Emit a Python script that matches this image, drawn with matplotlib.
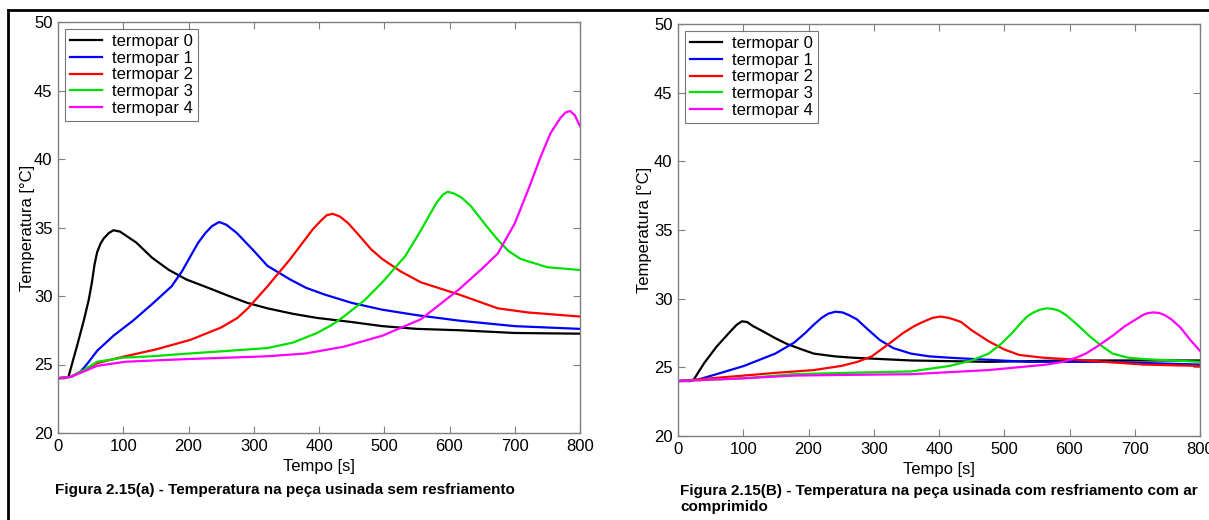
import matplotlib
matplotlib.use("Agg")
import matplotlib.pyplot as plt
from matplotlib.lines import Line2D

plt.rcParams['font.family'] = ['Liberation Sans', 'DejaVu Sans']

labels = ["termopar 0", "termopar 1", "termopar 2", "termopar 3", "termopar 4"]
colors = ["#000000", "#0000ff", "#ff0000", "#00e000", "#ff00ff"]

# Panel (a): sem resfriamento
a0_x = [0, 10, 16, 30, 40, 47, 52, 56, 60, 65, 70, 78, 85, 95, 120, 144, 170, 197, 230, 262, 290, 321, 360, 397, 450, 497, 550, 615, 700, 800]
a0_y = [24.0, 24.0, 24.1, 26.5, 28.3, 29.7, 31.0, 32.3, 33.2, 33.8, 34.2, 34.6, 34.8, 34.7, 33.9, 32.8, 31.9, 31.2, 30.6, 30.0, 29.5, 29.1, 28.7, 28.4, 28.1, 27.8, 27.6, 27.5, 27.3, 27.25]
a1_x = [0, 20, 35, 44, 60, 85, 115, 144, 174, 190, 203, 215, 226, 236, 247, 258, 274, 300, 321, 356, 380, 409, 450, 497, 550, 615, 700, 800]
a1_y = [24.0, 24.1, 24.5, 25.0, 26.0, 27.1, 28.2, 29.4, 30.7, 31.8, 32.9, 33.9, 34.6, 35.1, 35.4, 35.2, 34.6, 33.3, 32.2, 31.2, 30.6, 30.1, 29.5, 29.0, 28.6, 28.2, 27.8, 27.6]
a2_x = [0, 20, 40, 60, 103, 150, 203, 250, 275, 291, 321, 356, 391, 403, 412, 421, 432, 445, 460, 480, 497, 525, 556, 615, 674, 720, 800]
a2_y = [24.0, 24.1, 24.6, 25.1, 25.6, 26.1, 26.8, 27.7, 28.4, 29.1, 30.7, 32.7, 34.9, 35.5, 35.9, 36.0, 35.8, 35.3, 34.5, 33.4, 32.7, 31.8, 31.0, 30.1, 29.1, 28.8, 28.5]
a3_x = [0, 20, 40, 60, 100, 144, 200, 262, 321, 360, 397, 420, 438, 470, 497, 532, 555, 568, 580, 590, 597, 606, 618, 632, 655, 674, 690, 709, 750, 800]
a3_y = [24.0, 24.1, 24.6, 25.2, 25.5, 25.6, 25.8, 26.0, 26.2, 26.6, 27.3, 27.9, 28.5, 29.7, 31.0, 32.9, 34.7, 35.8, 36.8, 37.4, 37.6, 37.5, 37.2, 36.6, 35.2, 34.1, 33.3, 32.7, 32.1, 31.9]
a4_x = [0, 20, 40, 60, 103, 150, 200, 262, 320, 379, 438, 497, 556, 615, 650, 674, 700, 721, 740, 755, 770, 778, 785, 792, 800]
a4_y = [24.0, 24.1, 24.5, 24.9, 25.2, 25.3, 25.4, 25.5, 25.6, 25.8, 26.3, 27.1, 28.3, 30.5, 32.0, 33.1, 35.3, 37.8, 40.2, 41.9, 43.0, 43.4, 43.5, 43.2, 42.4]

# Panel (B): com resfriamento com ar comprimido
b0_x = [0, 20, 24, 40, 59, 80, 90, 98, 106, 115, 131, 150, 167, 190, 208, 240, 268, 357, 476, 600, 700, 800]
b0_y = [24.0, 24.0, 24.1, 25.3, 26.5, 27.6, 28.1, 28.35, 28.3, 28.0, 27.6, 27.1, 26.7, 26.3, 26.0, 25.8, 25.7, 25.5, 25.4, 25.5, 25.5, 25.5]
b1_x = [0, 30, 59, 101, 149, 178, 195, 208, 220, 230, 241, 252, 262, 274, 290, 309, 330, 357, 385, 416, 535, 654, 800]
b1_y = [24.0, 24.1, 24.5, 25.1, 26.0, 26.8, 27.5, 28.1, 28.6, 28.9, 29.05, 29.0, 28.8, 28.5, 27.8, 27.0, 26.4, 26.0, 25.8, 25.7, 25.4, 25.4, 25.2]
b2_x = [0, 50, 101, 150, 208, 250, 275, 297, 320, 345, 362, 375, 390, 402, 415, 425, 434, 450, 476, 500, 523, 560, 595, 714, 800]
b2_y = [24.0, 24.2, 24.4, 24.6, 24.8, 25.1, 25.4, 25.8, 26.6, 27.5, 28.0, 28.3, 28.6, 28.7, 28.6, 28.45, 28.3, 27.7, 26.9, 26.3, 25.9, 25.7, 25.6, 25.2, 25.1]
b3_x = [0, 100, 178, 260, 357, 416, 450, 476, 495, 512, 525, 535, 545, 555, 565, 575, 585, 595, 612, 630, 648, 666, 690, 714, 800]
b3_y = [24.0, 24.2, 24.5, 24.6, 24.7, 25.1, 25.5, 26.0, 26.7, 27.5, 28.2, 28.7, 29.0, 29.2, 29.3, 29.25, 29.1, 28.8, 28.1, 27.3, 26.6, 26.0, 25.7, 25.6, 25.4]
b4_x = [0, 100, 178, 260, 357, 476, 565, 590, 610, 625, 645, 666, 685, 702, 712, 720, 729, 738, 746, 756, 770, 785, 800]
b4_y = [24.0, 24.2, 24.4, 24.45, 24.5, 24.8, 25.2, 25.4, 25.7, 26.0, 26.6, 27.3, 28.0, 28.5, 28.8, 28.95, 29.0, 28.95, 28.8, 28.5, 27.9, 27.0, 26.2]

panel_a = [(a0_x, a0_y), (a1_x, a1_y), (a2_x, a2_y), (a3_x, a3_y), (a4_x, a4_y)]
panel_b = [(b0_x, b0_y), (b1_x, b1_y), (b2_x, b2_y), (b3_x, b3_y), (b4_x, b4_y)]

xticks = [0, 100, 200, 300, 400, 500, 600, 700, 800]
yticks = [20, 25, 30, 35, 40, 45, 50]

caption_a = "Figura 2.15(a) - Temperatura na peça usinada sem resfriamento"
caption_b = "Figura 2.15(B) - Temperatura na peça usinada com resfriamento com ar\ncomprimido"

W, H = 1209, 520
fig = plt.figure(figsize=(W / 100, H / 100), dpi=100)
fig.patch.set_facecolor("white")

def box(x0, y0, x1, y1):
    return [x0 / W, 1 - y1 / H, (x1 - x0) / W, (y1 - y0) / H]

ax_a = fig.add_axes(box(58, 22, 580, 433))
ax_b = fig.add_axes(box(678, 24, 1200, 436))

spine_col = "#7f7f7f"
for ax, data, ypad in [(ax_a, panel_a, -0.5), (ax_b, panel_b, 1.0)]:
    for (xs, ys), c, lab in zip(data, colors, labels):
        ax.plot(xs, ys, color=c, lw=1.6, label=lab, solid_joinstyle="round")
    ax.set_xlim(0, 800)
    ax.set_ylim(20, 50)
    ax.set_xticks(xticks)
    ax.set_yticks(yticks)
    ax.tick_params(direction="in", top=True, right=True, length=5, width=0.8,
                   color=spine_col, labelsize=12)
    ax.tick_params(axis="x", pad=4)
    ax.tick_params(axis="y", pad=4)
    for s in ax.spines.values():
        s.set_color(spine_col)
        s.set_linewidth(1.0)
    ax.set_xlabel("Tempo [s]", fontsize=12, labelpad=4)
    ax.set_ylabel("Temperatura [°C]", fontsize=12, labelpad=ypad)
    leg = ax.legend(loc="upper left", fontsize=12, frameon=True, fancybox=False,
                    edgecolor="#555555", handlelength=1.9, handletextpad=0.6,
                    labelspacing=0.1, borderpad=0.3, borderaxespad=0.0,
                    bbox_to_anchor=(7 / 522, 1 - 7 / 411))
    leg.get_frame().set_linewidth(0.8)

fig.text(55 / W, 1 - 490 / H, caption_a, fontsize=11, fontweight="bold", va="center", ha="left")
fig.text(680 / W, 1 - 499 / H, caption_b, fontsize=11, fontweight="bold", va="center", ha="left",
         linespacing=1.15)

# outer frame lines
fig.add_artist(Line2D([8 / W, 1], [1 - 10 / H, 1 - 10 / H], color="black", lw=2, transform=fig.transFigure))
fig.add_artist(Line2D([8 / W, 8 / W], [1 - 10 / H, 0], color="black", lw=2, transform=fig.transFigure))

fig.savefig("out.png", dpi=100)
